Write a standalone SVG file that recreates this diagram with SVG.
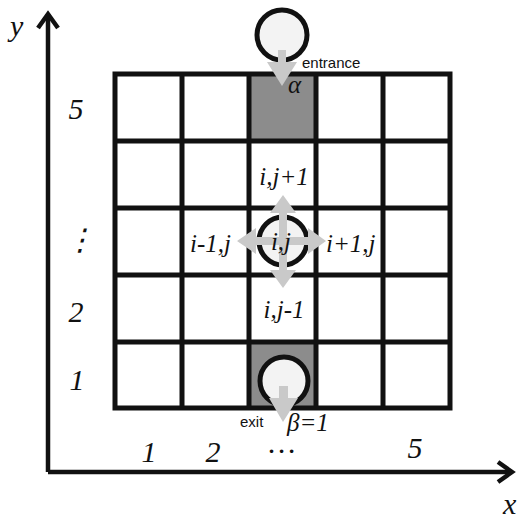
<svg xmlns="http://www.w3.org/2000/svg" width="520" height="519" viewBox="0 0 520 519">
<style>
.grid{stroke:#111;stroke-width:5;fill:none;stroke-linecap:square}
.cell{fill:#8c8c8c}
.ring{fill:#f3f3f3;stroke:#111;stroke-width:5}
.arr{fill:#c9c9c9}
.it{font-family:"Liberation Serif",serif;font-style:italic;font-size:25px;fill:#111}
.num{font-family:"Liberation Serif",serif;font-style:italic;font-size:30px;fill:#111}
.sans{font-family:"Liberation Sans",sans-serif;font-size:15px;fill:#111}
.ax{stroke:#111;stroke-width:4.5;fill:none}
</style>
<rect width="520" height="519" fill="#fff"/>
<g id="axes">
<path class="ax" d="M48,472 V14 M48,472 H512"/>
<path class="ax" d="M38,28 L48,14 L58,28 M498,462 L512,472 L498,482" stroke-linejoin="miter"/>
<text class="num" x="10" y="36" font-size="27">y</text>
<text class="num" x="503" y="514" font-size="27">x</text>
</g>
<g id="grid">
<rect class="cell" x="249" y="74" width="67" height="67"/>
<rect class="cell" x="249" y="342" width="67" height="66"/>
<path class="grid" d="M115,74 H450 M115,141 H450 M115,208 H450 M115,275 H450 M115,342 H450 M115,408 H450 M115,74 V408 M182,74 V408 M249,74 V408 M316,74 V408 M383,74 V408 M450,74 V408"/>
</g>
<g id="labels">
<text class="num" x="76" y="119" text-anchor="middle">5</text>
<text class="num" x="80" y="250" text-anchor="middle" font-style="normal" font-size="22">⋮</text>
<text class="num" x="76" y="322" text-anchor="middle">2</text>
<text class="num" x="77" y="390" text-anchor="middle">1</text>
<text class="num" x="149" y="462" text-anchor="middle">1</text>
<text class="num" x="213" y="462" text-anchor="middle">2</text>
<text class="num" x="282" y="453" text-anchor="middle" font-style="normal" font-size="24">…</text>
<text class="num" x="415" y="458" text-anchor="middle">5</text>
</g>
<g id="entrance">
<circle class="ring" cx="282" cy="35" r="25"/>
<path class="arr" d="M278,50 H286 V62 H297 L282,86 L267,62 H278 Z"/>
<text class="sans" x="302" y="68">entrance</text>
<text class="it" x="288" y="93">α</text>
</g>
<g id="center">
<circle class="ring" cx="283" cy="241" r="24"/>
<path class="arr" d="M279,241 V213 H270 L283,195 L296,213 H287 V241 Z"/>
<path class="arr" d="M279,241 V270 H270 L283,288 L296,270 H287 V241 Z"/>
<path class="arr" d="M283,237 H256 V228 L237,241 L256,254 V245 H283 Z"/>
<path class="arr" d="M283,237 H308 V228 L326,241 L308,254 V245 H283 Z"/>
<text class="it" x="281" y="250" text-anchor="middle">i,j</text>
<text class="it" x="284" y="185" text-anchor="middle">i,j+1</text>
<text class="it" x="284" y="318" text-anchor="middle">i,j-1</text>
<text class="it" x="231" y="252" text-anchor="end">i-1,j</text>
<text class="it" x="326" y="252">i+1,j</text>
</g>
<g id="exit">
<circle class="ring" cx="284" cy="381" r="24"/>
<path class="arr" d="M279,386 H288 V398 H298 L283,422 L269,398 H279 Z"/>
<text class="sans" x="240" y="427" font-size="16">exit</text>
<text class="it" x="287" y="431" font-size="26">β=1</text>
</g>
</svg>
